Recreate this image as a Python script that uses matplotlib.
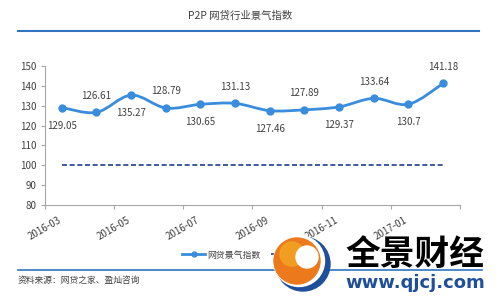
import matplotlib
matplotlib.use("Agg")
import matplotlib.pyplot as plt
import numpy as np
from matplotlib.path import Path
from matplotlib.patches import PathPatch, Circle
from matplotlib.lines import Line2D

plt.rcParams['font.family'] = ['Noto Sans CJK SC', 'DejaVu Sans']

# data
months = ['2016-03', '2016-04', '2016-05', '2016-06', '2016-07', '2016-08',
          '2016-09', '2016-10', '2016-11', '2016-12', '2017-01', '2017-02']
index_values = [129.05, 126.61, 135.27, 128.79, 130.65, 131.13,
                127.46, 127.89, 129.37, 133.64, 130.7, 141.18]
baseline = [100] * len(months)
series_names = ['网贷景气指数', '荣枯线']
title = 'P2P 网贷行业景气指数'
source = '资料来源：网贷之家、盈灿咨询'

blue = '#3a8ddc'
navy = '#1f3f8f'
text_col = '#404040'

fig = plt.figure(figsize=(5, 2.98), dpi=100)
ax = fig.add_axes([0.089, 0.312, 0.832, 0.467])

xs = np.arange(len(months))
ys = np.array(index_values)

# smoothed line (bezier through the points, like excel)
verts = [(xs[0], ys[0])]
codes = [Path.MOVETO]
n = len(xs)
for i in range(n - 1):
    p0 = max(i - 1, 0)
    p3 = min(i + 2, n - 1)
    c1 = (xs[i] + (xs[i + 1] - xs[p0]) / 6, ys[i] + (ys[i + 1] - ys[p0]) / 6)
    c2 = (xs[i + 1] - (xs[p3] - xs[i]) / 6, ys[i + 1] - (ys[p3] - ys[i]) / 6)
    verts += [c1, c2, (xs[i + 1], ys[i + 1])]
    codes += [Path.CURVE4] * 3
ax.add_patch(PathPatch(Path(verts, codes), fill=False, ec=blue, lw=2.0,
                       capstyle='round', zorder=3))
ax.plot(xs, ys, 'o', color=blue, ms=5, zorder=4)

ax.plot(xs, baseline, color=navy, lw=1.2, dashes=(3, 1.6), zorder=2)

for i, v in enumerate(index_values):
    dy = -13 if i % 2 == 0 else 12
    ax.annotate(f'{v:g}', (xs[i], v), xytext=(0, dy), textcoords='offset points',
                ha='center', va='center', fontsize=7, color=text_col)

ax.set_xlim(-0.5, 11.5)
ax.set_ylim(80, 150)
ax.set_yticks(np.arange(80, 151, 10))
ax.set_xticks(np.arange(-0.5, 12, 2))
ax.set_xticklabels([months[i] for i in range(0, 12, 2)] + [''], rotation=30,
                   ha='center')

for s in ['top', 'right']:
    ax.spines[s].set_visible(False)
for s in ['left', 'bottom']:
    ax.spines[s].set_color('#a6a6a6')
    ax.spines[s].set_linewidth(0.8)
ax.tick_params(axis='both', length=3, width=0.8, color='#a6a6a6',
               labelsize=7, labelcolor=text_col)
ax.tick_params(axis='x', pad=4)
ax.tick_params(axis='y', pad=3)

handles = [Line2D([], [], color=blue, lw=2, marker='o', ms=3.5),
           Line2D([], [], color=navy, lw=1.2, dashes=(3, 1.6))]
ax.legend(handles, series_names, ncol=2, loc='center',
          bbox_to_anchor=(0.505, 0.144), bbox_transform=fig.transFigure,
          frameon=False, fontsize=6.4, handlelength=2.6, handletextpad=0.2,
          columnspacing=1.2, labelcolor=text_col)

# page decorations in pixel coordinates
ov = fig.add_axes([0, 0, 1, 1], zorder=10)
ov.set_xlim(0, 500)
ov.set_ylim(298, 0)
ov.axis('off')
ov.text(240, 16, title, ha='center', va='center', fontsize=7.5, color=text_col)
ov.plot([18, 479], [31, 31], color='#2f75c0', lw=1.5)
ov.plot([18, 482], [270, 270], color='#2f75c0', lw=1.2)
ov.text(18, 280, source, ha='left', va='center', fontsize=6.3, color=text_col)

# watermark logo
ov.add_patch(Circle((303, 264), 27, color='#1f4e9a', zorder=3))
ov.add_patch(Circle((299, 261), 25.5, color='white', zorder=4))
ov.add_patch(Circle((297, 261), 23, color='#ec7a1c', zorder=5))
ov.add_patch(Circle((292, 254), 12, color='#f2a623', zorder=5, alpha=0.8))
ov.add_patch(Circle((307, 257), 11, color='white', zorder=6))
ov.text(415, 254, '全景财经', ha='center', va='center', fontsize=25,
        fontweight='bold', color='black', zorder=7)
ov.text(415, 283, 'www.qjcj.com', ha='center', va='center', fontsize=13,
        fontweight='bold', color='#1f4e9a', family='DejaVu Sans', zorder=7)

fig.savefig('out.png', dpi=100)
